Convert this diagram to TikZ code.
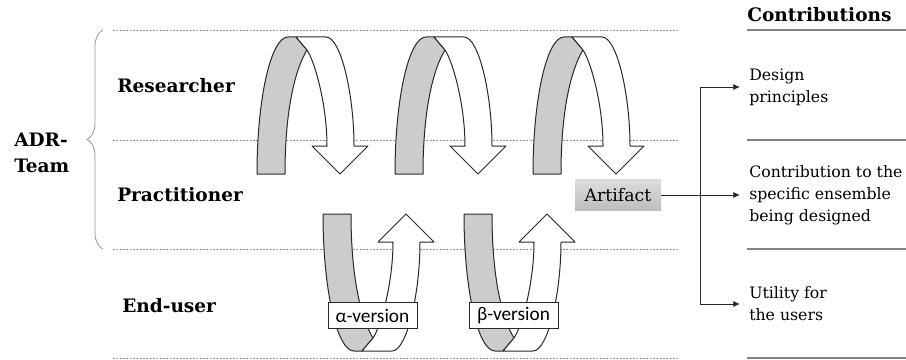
\documentclass[tikz,border=0pt]{standalone}
\usepackage{fontspec}
\setmainfont{DejaVu Serif}
\newfontfamily\versionfont{Carlito}
\usepackage{tikz}
\usetikzlibrary{arrows.meta, positioning, calc, decorations.pathreplacing}
\definecolor{bandgray}{RGB}{204,204,204}
\definecolor{guidegray}{RGB}{150,150,150}
\definecolor{sepgray}{RGB}{130,130,130}
\definecolor{outline}{RGB}{40,40,40}
\definecolor{arttop}{RGB}{220,220,220}
\definecolor{artbot}{RGB}{190,190,190}
\tikzset{
  role/.style={font=\fontsize{13.9}{19.5}\selectfont\bfseries, align=left,
    inner sep=0pt, anchor=west},
  contrib/.style={font=\fontsize{11.8}{16.5}\selectfont, align=left,
    inner sep=0pt, anchor=west},
  version/.style={rectangle, draw=outline, fill=white, line width=0.75pt,
    font=\versionfont\fontsize{14.5}{16}\selectfont,
    minimum width=66.75pt, minimum height=20pt, inner sep=0pt},
  artifact/.style={rectangle, top color=arttop, bottom color=artbot,
    minimum width=64.5pt, minimum height=23pt, inner sep=0pt,
    font=\fontsize{13}{15}\selectfont},
  guide/.style={guidegray, line width=0.6pt, dash pattern=on 1.5pt off 1pt},
  sepline/.style={sepgray, line width=0.9pt},
  band/.style={draw=outline, line width=0.75pt, line join=round},
  arrow/.style={-{Latex[length=5pt,width=4.5pt]}, line width=0.6pt,
    color=outline, shorten >=6.75pt}
}

\begin{document}
\begin{tikzpicture}[x=0.75pt, y=-0.75pt]
  \useasboundingbox (0,0) rectangle (906,360);

  % lanes
  \foreach \y in {30,140,249,358} {
    \draw[guide] (113,\y) -- (678,\y);
    \draw[sepline] (747,\y) -- (906,\y);
  }
  \draw[guidegray, line width=0.6pt, decorate,
    decoration={brace, amplitude=12pt}] (103,249) -- (103,30);

  \node[role] (team) at (14,153) {ADR-\\Team};
  \node[role] (res) at (117,86) {Researcher};
  \node[role] (prac) at (117,195) {Practitioner};
  \node[role] (enduser) at (122,306) {End-user};

  % building cycles
  \foreach \x in {257,395,533} {
    \begin{scope}[shift={(\x,174)}]
      \filldraw[band, fill=bandgray] (0,0) .. controls (0,-76) and (14,-137) .. (31,-137)
        -- (39,-137) -- (50,-124) .. controls (40,-108) and (28,-70) .. (28,0) -- cycle;
      \filldraw[band, fill=white] (39,-137) -- (69,-137)
        .. controls (84,-137) and (97,-79) .. (97,-28) -- (111,-28) -- (83,0)
        -- (55,-28) -- (70,-28) .. controls (70,-69) and (58,-112) .. (50,-124) -- cycle;
    \end{scope}
  }
  % evaluation cycles
  \foreach \x in {323,464} {
    \begin{scope}[shift={(\x,214)}, yscale=-1]
      \filldraw[band, fill=bandgray] (0,0) .. controls (0,-76) and (14,-137) .. (31,-137)
        -- (39,-137) -- (50,-124) .. controls (40,-108) and (28,-70) .. (28,0) -- cycle;
      \filldraw[band, fill=white] (39,-137) -- (69,-137)
        .. controls (84,-137) and (97,-79) .. (97,-28) -- (111,-28) -- (83,0)
        -- (55,-28) -- (70,-28) .. controls (70,-69) and (58,-112) .. (50,-124) -- cycle;
    \end{scope}
  }

  \node[version] (alpha) at (372.5,315.5) {α-version};
  \node[version] (beta) at (513.5,315.5) {β-version};
  \node[artifact] (art) at (618,195) {Artifact};

  % contributions
  \node[role] (head) at (747,15) {Contributions};
  \node[contrib] (design) at (749,87) {Design\\principles};
  \node[contrib] (ensemble) at (749,195) {Contribution to the\\specific ensemble\\being designed};
  \node[contrib] (utility) at (749,304) {Utility for\\the users};

  \coordinate (split) at (700,195);
  \draw[arrow] (art.east) -- (ensemble.west);
  \draw[arrow] (split) |- (design.west);
  \draw[arrow] (split) |- (utility.west);

\end{tikzpicture}
\end{document}
